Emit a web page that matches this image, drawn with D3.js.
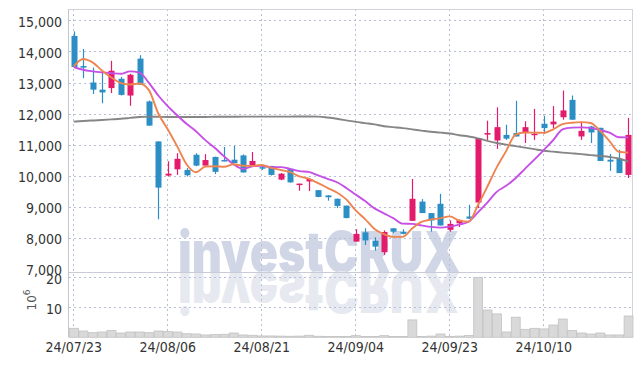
<!DOCTYPE html>
<html><head><meta charset="utf-8">
<script src="https://cdn.jsdelivr.net/npm/d3@7"></script>
<style>
html,body{margin:0;padding:0;background:#fff;}
svg{display:block;}
.lbl{font-family:'Liberation Sans Narrow','DejaVu Sans Condensed','Roboto Condensed',sans-serif;font-stretch:condensed;font-size:14px;fill:#333;}
</style></head><body>
<svg id="chart" width="642" height="366"></svg>
<script>
const dates = ["24/07/23","24/07/24","24/07/25","24/07/26","24/07/29","24/07/30","24/07/31","24/08/01","24/08/02","24/08/05",
"24/08/06","24/08/07","24/08/08","24/08/09","24/08/12","24/08/13","24/08/14","24/08/16","24/08/19","24/08/20",
"24/08/21","24/08/22","24/08/23","24/08/26","24/08/27","24/08/28","24/08/29","24/08/30","24/09/02","24/09/03",
"24/09/04","24/09/05","24/09/06","24/09/09","24/09/10","24/09/11","24/09/12","24/09/13","24/09/19","24/09/20",
"24/09/23","24/09/24","24/09/25","24/09/26","24/09/27","24/09/30","24/10/02","24/10/04","24/10/07","24/10/08",
"24/10/10","24/10/11","24/10/14","24/10/15","24/10/16","24/10/17","24/10/18","24/10/21","24/10/22","24/10/23"];
const opens = [14500,13530,13000,12770,12820,13120,12580,13770,12390,11100,
10000,10200,10180,10670,10320,10600,10500,10510,10650,10340,
10270,10310,9870,10220,9710,9810,9530,9360,9250,9030,
7870,8170,7900,7530,8300,8190,8540,9160,8790,9090,
8250,8460,8680,9130,11320,11130,11310,11370,11370,11300,
11670,11650,11880,12440,11260,11580,11540,10510,10540,10020];
const highs = [14650,14080,13480,13390,13700,13180,13280,13880,12420,11100,
10460,10720,10240,10720,10690,10610,10920,10960,10680,10760,
10350,10310,10080,10230,9740,9900,9530,9370,9260,9030,
8270,8300,8010,8230,8300,8270,9890,9240,8790,9410,
8550,8580,9060,11210,11770,12200,11640,12410,11750,12150,
11930,12240,12740,12580,11720,11600,11540,10700,10830,11860];
const lows = [13500,13140,12630,12330,12660,12580,12250,12930,11600,8590,
9970,10020,9970,10300,10320,10050,10460,10400,10100,10340,
10180,10000,9850,9770,9510,9500,9300,9190,8950,8620,
7870,7760,7580,7440,8140,8100,8540,8790,8190,8390,
8190,8340,8600,8950,11150,10860,11150,11260,11050,11150,
11340,11530,11800,11800,11150,11050,10470,10150,10080,9920];
const closes = [13500,13480,12770,12680,13380,12600,13250,12930,11610,9610,
10060,10540,10010,10320,10500,10120,10470,10400,10100,10470,
10250,10020,10060,9780,9740,9890,9310,9300,9020,8630,
8120,7910,7710,8180,8190,8120,9250,8790,8550,8390,
8440,8570,8610,11210,11370,11560,11190,11260,11560,11350,
11530,11740,12100,11800,11440,11390,10470,10450,10080,11310];
const volumes = [3.0,2.1,1.55,1.77,2.3,1.43,1.77,1.77,1.55,2.1,
1.9,1.77,1.2,1.1,0.78,0.9,1.0,1.43,0.78,0.67,
0.45,0.45,0.4,0.35,0.4,0.67,0.35,0.3,0.3,0.25,
0.55,0.3,0.3,0.55,0.3,0.3,5.8,0.3,0.4,1.1,
0.3,0.4,0.6,20.0,9.1,7.8,1.77,6.7,2.66,3.0,
2.8,4.1,6.1,2.3,1.43,1.1,1.43,0.78,0.78,7.1];
const ma5 = [13520,13760,13650,13390,13162,12982,12936,12968,12754,12000,
11492,10950,10366,10108,10286,10298,10284,10362,10318,10312,
10338,10248,10180,10116,9970,9898,9756,9604,9452,9230,
8876,8596,8278,8110,8022,8022,8290,8506,8580,8620,
8684,8548,8512,9044,9640,10264,10788,11318,11388,11384,
11378,11488,11656,11704,11722,11694,11440,11110,10766,10740];
const ma10 = [13500,13410,13360,13325,13300,13280,13360,13320,12990,12581,
12237,11943,11667,11431,11143,10895,10617,10364,10213,10299,
10318,10266,10271,10217,10141,10118,10002,9892,9784,9600,
9387,9176,8941,8781,8626,8449,8443,8392,8345,8321,
8353,8419,8509,8812,9130,9474,9668,9915,10216,10512,
10821,11138,11487,11546,11553,11536,11464,11383,11235,11231];
const maLong = [11740,11760,11775,11790,11810,11830,11860,11890,11900,11895,
11890,11890,11890,11890,11890,11895,11895,11895,11900,11900,
11900,11900,11900,11900,11905,11905,11900,11870,11830,11780,
11730,11690,11650,11590,11560,11530,11490,11450,11410,11385,
11355,11300,11260,11200,11120,11050,10995,10950,10900,10850,
10800,10770,10740,10715,10690,10660,10630,10600,10550,10450];
const priceTicks = [7000,8000,9000,10000,11000,12000,13000,14000,15000];
const volTicks = [10,20];
const dateTickIdx = [0,10,20,30,40,50];

const W=642,H=366, L=69, R=633, T=9, PB=272, VB=337.3;
const RED="#e31b6d", BLUE="#2b8fc6", GRID="#b9c0d6";
const svg=d3.select("#chart");
const n=dates.length;
const x=d3.scaleBand().domain(d3.range(n)).range([L,R]).padding(0);
const cx=i=>x(i)+x.bandwidth()/2;
const y=d3.scaleLinear().domain([6890,15370]).range([PB,T]);
const yv=d3.scaleLinear().domain([0,21.77]).range([VB,PB]);

// watermark (behind grid)
const wm=svg.append("g");
const wmFont="Inter, Lato, 'DejaVu Sans', sans-serif";
wm.append("text").attr("x",178).attr("y",272).text("investCRUX")
 .attr("font-family",wmFont).attr("font-weight",900)
 .attr("font-size",56).attr("textLength",282).attr("lengthAdjust","spacingAndGlyphs")
 .attr("fill","#d1d6e7");
wm.append("text").attr("x",178).attr("y",-272).attr("transform","scale(1,-1)").text("investCRUX")
 .attr("font-family",wmFont).attr("font-weight",900)
 .attr("font-size",56).attr("textLength",282).attr("lengthAdjust","spacingAndGlyphs")
 .attr("fill","#e7e9f1");

// grids
const g=svg.append("g");
g.selectAll(".hg").data(priceTicks.filter(d=>d>7000)).join("line")
 .attr("x1",L).attr("x2",R).attr("y1",d=>Math.round(y(d))+0.5).attr("y2",d=>Math.round(y(d))+0.5)
 .attr("stroke",GRID).attr("stroke-dasharray","2,3");
g.selectAll(".vgl").data(volTicks).join("line")
 .attr("x1",L).attr("x2",R).attr("y1",d=>Math.round(yv(d))+0.5).attr("y2",d=>Math.round(yv(d))+0.5)
 .attr("stroke",GRID).attr("stroke-dasharray","2,3");
g.selectAll(".vg").data(dateTickIdx).join("line")
 .attr("x1",d=>Math.round(cx(d))-0.5).attr("x2",d=>Math.round(cx(d))-0.5).attr("y1",T).attr("y2",VB)
 .attr("stroke",GRID).attr("stroke-dasharray","2,3");

// frame
svg.append("line").attr("x1",L).attr("x2",R).attr("y1",T+0.5).attr("y2",T+0.5).attr("stroke","#d3d3dc");
svg.append("line").attr("x1",L).attr("x2",R).attr("y1",PB+0.5).attr("y2",PB+0.5).attr("stroke","#c9cbd6");
svg.append("line").attr("x1",L-0.5).attr("x2",L-0.5).attr("y1",T).attr("y2",VB).attr("stroke","#c4c6cf");
svg.append("line").attr("x1",R-0.5).attr("x2",R-0.5).attr("y1",T).attr("y2",VB).attr("stroke","#d3d3dc");

// volume bars
svg.append("g").selectAll("rect").data(volumes).join("rect")
 .attr("x",(d,i)=>x(i)+0.5).attr("width",x.bandwidth()-0.5)
 .attr("y",d=>yv(d)).attr("height",d=>VB-yv(d))
 .attr("fill","#d9d9d9").attr("stroke","#c2c2c2").attr("stroke-width",0.8);

// candles
const cg=svg.append("g");
const idx=d3.range(n);
cg.selectAll(".wick").data(idx).join("line")
 .attr("x1",i=>Math.round(cx(i))+0.5).attr("x2",i=>Math.round(cx(i))+0.5)
 .attr("y1",i=>y(highs[i])).attr("y2",i=>y(lows[i]))
 .attr("stroke",i=>closes[i]>=opens[i]?RED:BLUE).attr("stroke-width",1.2);
cg.selectAll(".body").data(idx).join("rect")
 .attr("x",i=>Math.round(cx(i))-2.5).attr("width",6)
 .attr("y",i=>y(Math.max(opens[i],closes[i])))
 .attr("height",i=>Math.max(1.5,Math.abs(y(opens[i])-y(closes[i]))))
 .attr("fill",i=>closes[i]>=opens[i]?RED:BLUE);

// MA lines
const line=arr=>d3.line().x((d,i)=>cx(i)).y(d=>y(d)).curve(d3.curveMonotoneX)(arr);
svg.append("path").attr("d",line(maLong)).attr("fill","none").attr("stroke","#7f7f7f").attr("stroke-width",1.9).attr("opacity",0.95);
svg.append("path").attr("d",line(ma10)).attr("fill","none").attr("stroke","#c64fe6").attr("stroke-width",1.9);
svg.append("path").attr("d",line(ma5)).attr("fill","none").attr("stroke","#ee8450").attr("stroke-width",1.9);

// axes
const ya=svg.append("g").attr("transform",`translate(${L},0)`)
 .call(d3.axisLeft(y).tickValues(priceTicks).tickFormat(d3.format(",")).tickSize(0).tickPadding(7));
ya.select(".domain").remove();
ya.selectAll("text").attr("class","lbl").attr("dy","0.45em").attr("font-family",null).attr("font-size",null);

const va=svg.append("g").attr("transform",`translate(${L},0)`)
 .call(d3.axisLeft(yv).tickValues(volTicks).tickFormat(d3.format("d")).tickSize(0).tickPadding(7));
va.select(".domain").remove();
va.selectAll("text").attr("class","lbl").attr("dy","0.45em").attr("font-family",null).attr("font-size",null);

const xa=svg.append("g").attr("transform",`translate(0,${VB})`)
 .call(d3.axisBottom(x).tickValues(dateTickIdx).tickFormat(i=>dates[i]).tickSize(0).tickPadding(5));
xa.select(".domain").remove();
xa.selectAll("text").attr("class","lbl").attr("font-family",null).attr("font-size",null);

// volume unit label
const ul=svg.append("text").attr("transform","translate(36,300) rotate(-90)")
 .attr("text-anchor","middle").attr("font-family","'DejaVu Sans',sans-serif").attr("font-size",12).attr("fill","#555");
ul.append("tspan").text("10");
ul.append("tspan").text("6").attr("font-size",9).attr("dy",-6);
</script>
</body></html>
